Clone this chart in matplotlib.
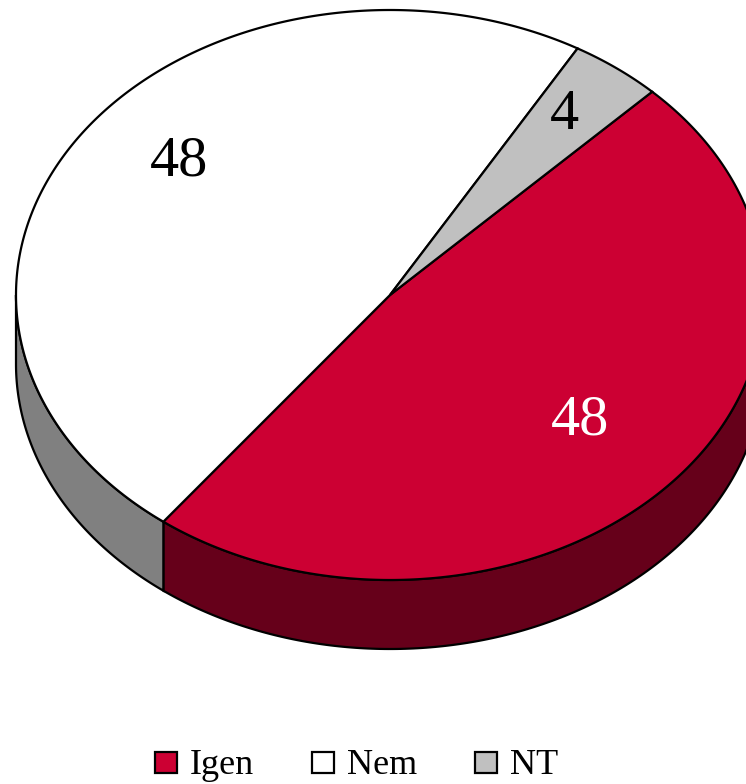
import numpy as np
import matplotlib
matplotlib.use("Agg")
import matplotlib.pyplot as plt
from matplotlib.patches import Polygon, Rectangle

categories = ["Igen", "Nem", "NT"]
values = [48, 48, 4]
top_colors = ["#CC0033", "#FFFFFF", "#C0C0C0"]
side_colors = ["#66001A", "#808080", "#606060"]
label_colors = ["white", "black", "black"]
start_angle = 45.5

W, H = 746, 784
CX, CY, RX, RY, DEPTH = 390, 295, 374, 285, 69

plt.rcParams["font.family"] = ["Liberation Serif", "DejaVu Serif"]
fig = plt.figure(figsize=(W / 100, H / 100), dpi=100, facecolor="white")
ax = fig.add_axes([0, 0, 1, 1])
ax.set_xlim(0, W)
ax.set_ylim(H, 0)
ax.axis("off")

def px(t):
    return CX + RX * np.cos(np.radians(t)), CY - RY * np.sin(np.radians(t))

# Slices run clockwise from start_angle
edges = start_angle - np.concatenate([[0], np.cumsum(values)]) * 3.6

# Side wall: only the front half (angles between 180 and 360) is visible
for i in range(len(values)):
    a0, a1 = edges[i + 1], edges[i]
    lo = max(a0, -180)
    hi = min(a1, 0)
    if lo >= hi:
        continue
    t = np.linspace(lo, hi, 200)
    x, y = px(t)
    xy = np.r_[np.c_[x, y], np.c_[x[::-1], y[::-1] + DEPTH]]
    ax.add_patch(Polygon(xy, closed=True, fc=side_colors[i], ec="black", lw=1.6, zorder=2))

# Top faces
for i in range(len(values)):
    t = np.linspace(edges[i + 1], edges[i], 300)
    x, y = px(t)
    xy = np.r_[[[CX, CY]], np.c_[x, y]]
    ax.add_patch(Polygon(xy, closed=True, fc=top_colors[i], ec="black", lw=1.6, zorder=3))

# Value labels
label_pos = [(580, 420), (179, 161), (564, 115)]
for v, c, (lx, ly) in zip(values, label_colors, label_pos):
    ax.text(lx, ly, str(v), color=c, fontsize=42, ha="center", va="center", zorder=5)

# Legend
legend_x = [155, 312, 475]
for name, col, lx in zip(categories, top_colors, legend_x):
    ax.add_patch(Rectangle((lx, 752), 22, 21, fc=col, ec="black", lw=1.6, zorder=5))
    ax.text(lx + 35, 765, name, fontsize=26, ha="left", va="center", color="black", zorder=5)

fig.savefig("out.png", dpi=100, facecolor="white")
